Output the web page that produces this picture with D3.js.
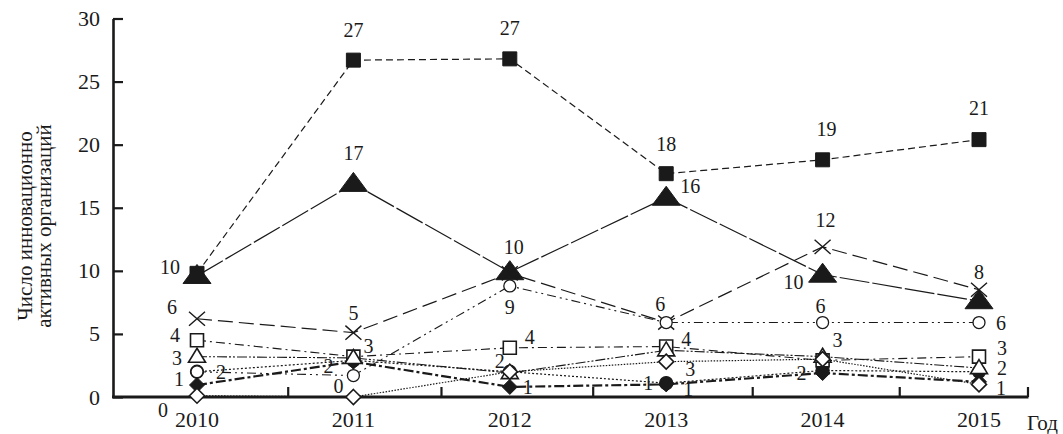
<!DOCTYPE html>
<html><head><meta charset="utf-8">
<script src="https://cdn.jsdelivr.net/npm/d3@7"></script>
<style>body{margin:0;background:#fff} svg{display:block}</style>
</head><body>
<script>
// ---- data ----
const years = [2010, 2011, 2012, 2013, 2014, 2015];
const yTicks = [0, 5, 10, 15, 20, 25, 30];
const xTickYears = [2010.58, 2011.56, 2012.53, 2013.55, 2014.49, 2015.31];
const yTitleLines = ["Число инновационно", "активных организаций"];
const xTitle = "Год";

const filledSquare   = [9.8, 26.7, 26.8, 17.7, 18.8, 20.4];
const filledTriangle = [9.6, 16.9, 9.9, 15.8, 9.7, 7.6];
const crossSeries    = [6.2, 5.1, 9.8, 5.9, 11.9, 8.5];
const openCircle     = [2.0, 1.7, 8.8, 5.9, 5.9, 5.9];
const openSquare     = [4.5, 3.2, 3.9, 4.0, 2.9, 3.2];
const openTriangle   = [3.2, 3.1, 1.9, 3.7, 3.2, 2.3];
const filledCircle   = [2.0, 2.9, 2.0, 1.1, 2.1, 2.0];
const filledDiamond  = [0.95, 2.8, 0.8, 1.0, 1.9, 1.2];
const openDiamond    = [0.1, 0.0, 2.0, 2.8, 3.0, 1.0];

// label texts: [series, year index, text]
const labelTexts = [
  ["filledSquare",0,"10"],["crossSeries",0,"6"],["openSquare",0,"4"],["openTriangle",0,"3"],
  ["openCircle",0,"2"],["filledDiamond",0,"1"],["openDiamond",0,"0"],
  ["filledSquare",1,"27"],["filledTriangle",1,"17"],["crossSeries",1,"5"],["openSquare",1,"3"],
  ["openCircle",1,"2"],["openDiamond",1,"0"],
  ["filledSquare",2,"27"],["filledTriangle",2,"10"],["openCircle",2,"9"],["openSquare",2,"4"],
  ["filledCircle",2,"2"],["filledDiamond",2,"1"],
  ["filledSquare",3,"18"],["filledTriangle",3,"16"],["openCircle",3,"6"],["openSquare",3,"4"],
  ["openDiamond",3,"3"],["filledCircle",3,"1"],["filledDiamond",3,"1"],
  ["filledSquare",4,"19"],["crossSeries",4,"12"],["filledTriangle",4,"10"],["openCircle",4,"6"],
  ["openTriangle",4,"3"],["filledDiamond",4,"2"],
  ["filledSquare",5,"21"],["crossSeries",5,"8"],["openCircle",5,"6"],["openSquare",5,"3"],
  ["openTriangle",5,"2"],["openDiamond",5,"1"]
];
// label offsets from the marker (px), same order as labelTexts
const labelOffsets = [
  [-27,-6],[-25,-12],[-22,-5],[-20,1],[24,0],[-18,-6],[-34,14],
  [0,-30],[0,-31],[0,-20],[15,-11],[-25,-10],[-15,-11],
  [0,-31],[4,-25],[0,21],[20,-11],[-10,-11],[18,0],
  [0,-30],[24,-12],[-6,-19],[20,-8],[24,7],[-18,0],[22,5],
  [4,-31],[3,-27],[-29,7],[-2,-17],[15,-17],[-21,0],
  [0,-32],[0,-18],[22,0],[23,-9],[23,0],[22,4]
];

const seriesData = {filledSquare, filledTriangle, crossSeries, openCircle, openSquare,
  openTriangle, filledCircle, filledDiamond, openDiamond};

// ---- styles ----
const styles = {
  filledSquare:   {marker:"square",   filled:true,  size:14, dash:"7,4",          width:1.2},
  filledTriangle: {marker:"triangle", filled:true,  size:28, h:19, dash:"30,3",   width:1.2},
  crossSeries:    {marker:"cross",    filled:false, size:16, dash:"15,6",         width:1.2},
  openCircle:     {marker:"circle",   filled:false, size:13, dash:"9,4,2,4,2,4",  width:1.1},
  openSquare:     {marker:"square",   filled:false, size:13, dash:"9,4,2,4",      width:1.1},
  openTriangle:   {marker:"triangle", filled:false, size:17, h:14, dash:"10,2,2,2,2,2", width:1.1},
  filledCircle:   {marker:"circle",   filled:true,  size:14, dash:"2,2",          width:1.2},
  filledDiamond:  {marker:"diamond",  filled:true,  size:15, dash:"10,3,3,3",     width:2.2},
  openDiamond:    {marker:"diamond",  filled:false, size:15, dash:"1.5,1.5",      width:1.2}
};

const W = 1063, H = 434;
const font = "Liberation Serif, Times New Roman, Tinos, DejaVu Serif, serif";
const ink = "#1a1a1a";

const svg = d3.select("body").append("svg").attr("width", W).attr("height", H)
  .style("font-family", font);

const x = d3.scaleLinear().domain([2010, 2015]).range([197, 979]);
const y = d3.scaleLinear().domain([0, 30]).range([397, 18.5]);
const axisLeftX = 113;
const axisRightX = x(xTickYears[xTickYears.length - 1]);

// y axis
const gy = svg.append("g").attr("transform", `translate(${axisLeftX},0)`)
  .call(d3.axisLeft(y).tickValues(yTicks).tickSizeInner(-10).tickSizeOuter(0).tickPadding(13));
gy.attr("font-family", null);
gy.select(".domain").attr("stroke", ink).attr("stroke-width", 2.6);
gy.selectAll(".tick line").attr("stroke", ink).attr("stroke-width", 2.2);
gy.selectAll(".tick text").style("font-family", font).attr("font-size", 22).attr("fill", ink);

// x axis
const gx = svg.append("g").attr("transform", `translate(0,${y(0)})`)
  .call(d3.axisBottom(x).tickValues(xTickYears).tickSizeInner(-10).tickSizeOuter(0).tickFormat(""));
gx.select(".domain").remove();
gx.selectAll(".tick line").attr("stroke", ink).attr("stroke-width", 2.2);
svg.append("line").attr("x1", axisLeftX - 1).attr("x2", axisRightX + 1)
  .attr("y1", y(0)).attr("y2", y(0)).attr("stroke", ink).attr("stroke-width", 3);

svg.append("g").selectAll("text").data(years).join("text")
  .attr("x", d => x(d)).attr("y", 427).attr("text-anchor", "middle")
  .style("font-family", font).attr("font-size", 22).attr("fill", ink).text(d => d);
svg.append("text").attr("x", 1027).attr("y", 430).style("font-family", font)
  .attr("font-size", 21).attr("fill", ink).text(xTitle);

// y title
const yt = svg.append("text").attr("transform", "translate(0,226) rotate(-90)")
  .attr("text-anchor", "middle").style("font-family", font).attr("font-size", 21).attr("fill", ink);
yt.selectAll("tspan").data(yTitleLines).join("tspan")
  .attr("x", 0).attr("y", (d, i) => 32 + i * 19).text(d => d);

// lines
const line = d3.line().x((d, i) => x(years[i])).y(d => y(d));
const order = ["openDiamond","filledCircle","filledDiamond","openTriangle","openSquare","openCircle","crossSeries","filledTriangle","filledSquare"];
order.forEach(k => {
  const st = styles[k];
  svg.append("path").datum(seriesData[k]).attr("d", line).attr("fill", "none")
    .attr("stroke", ink).attr("stroke-width", st.width).attr("stroke-dasharray", st.dash);
});

// markers
function markerPath(st) {
  const s = st.size;
  if (st.marker === "square") return `M${-s/2},${-s/2}h${s}v${s}h${-s}Z`;
  if (st.marker === "diamond") return `M0,${-s/2}L${s/2},0L0,${s/2}L${-s/2},0Z`;
  if (st.marker === "triangle") { const h = st.h; return `M0,${-h*0.6}L${s/2},${h*0.4}L${-s/2},${h*0.4}Z`; }
  if (st.marker === "cross") { const a = s/2, b = s*0.44; return `M${-a},${-b}L${a},${b}M${-a},${b}L${a},${-b}`; }
  return null;
}
const markerOrder = ["filledCircle","filledDiamond","filledSquare","filledTriangle","crossSeries","openSquare","openTriangle","openCircle","openDiamond"];
markerOrder.forEach(k => {
  const st = styles[k];
  const g = svg.append("g");
  seriesData[k].forEach((v, i) => {
    const cx = x(years[i]), cy = y(v);
    if (st.marker === "circle") {
      g.append("circle").attr("cx", cx).attr("cy", cy).attr("r", st.size/2 - 0.5)
        .attr("fill", st.filled ? ink : "#fff").attr("stroke", ink).attr("stroke-width", 1.3);
    } else if (st.marker === "cross") {
      g.append("path").attr("transform", `translate(${cx},${cy})`).attr("d", markerPath(st))
        .attr("fill", "none").attr("stroke", ink).attr("stroke-width", 1.4);
    } else {
      g.append("path").attr("transform", `translate(${cx},${cy})`).attr("d", markerPath(st))
        .attr("fill", st.filled ? ink : "#fff").attr("stroke", ink).attr("stroke-width", st.filled ? 1 : 1.6);
    }
  });
});

// labels
svg.append("g").selectAll("text").data(labelTexts).join("text")
  .attr("x", (d, i) => x(years[d[1]]) + labelOffsets[i][0])
  .attr("y", (d, i) => y(seriesData[d[0]][d[1]]) + labelOffsets[i][1])
  .attr("dy", "0.35em").attr("text-anchor", "middle")
  .style("font-family", font).attr("font-size", 20).attr("fill", ink)
  .text(d => d[2]);
</script>
</body></html>
